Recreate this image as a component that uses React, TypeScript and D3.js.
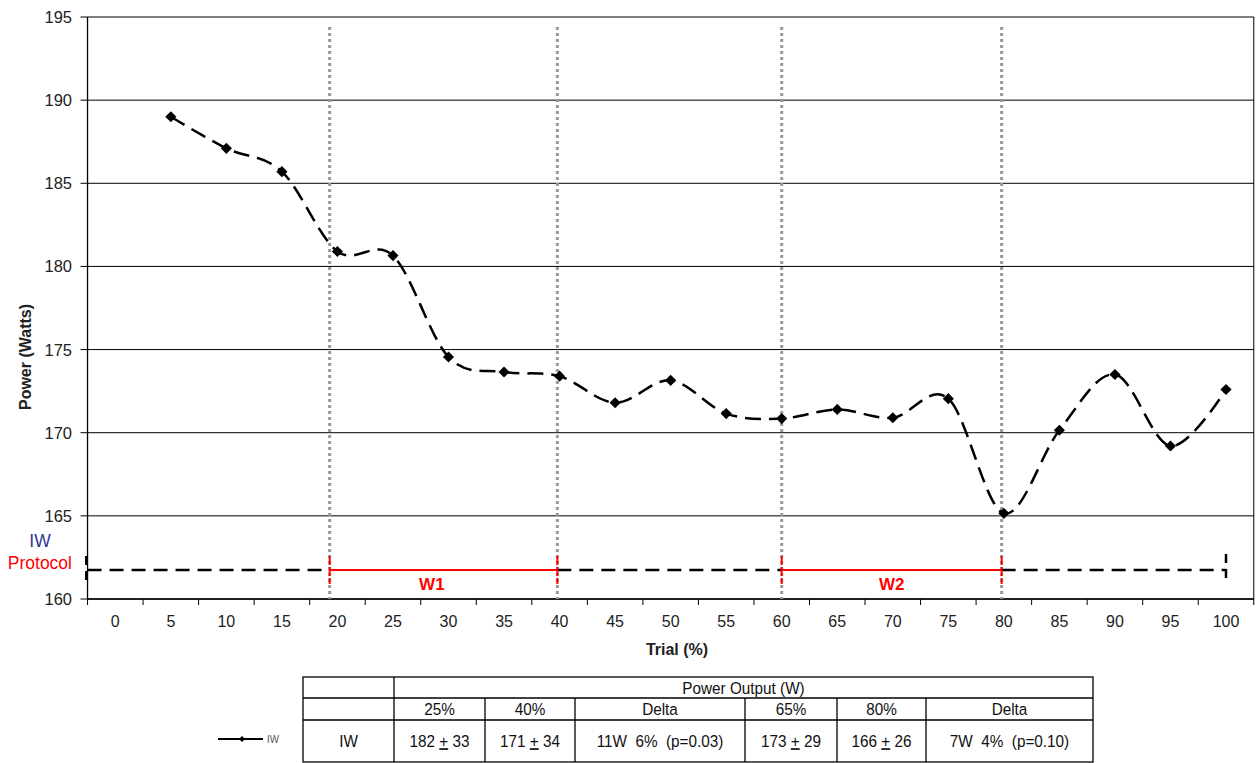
import React from "react";
import * as d3 from "d3";

const categories = [0, 5, 10, 15, 20, 25, 30, 35, 40, 45, 50, 55, 60, 65, 70, 75, 80, 85, 90, 95, 100];
const trial = [5, 10, 15, 20, 25, 30, 35, 40, 45, 50, 55, 60, 65, 70, 75, 80, 85, 90, 95, 100];
const power = [189.0, 187.1, 185.7, 180.9, 180.65, 174.55, 173.65, 173.4, 171.8, 173.15, 171.15, 170.85, 171.4, 170.9, 172.05, 165.15, 170.15, 173.5, 169.2, 172.6];
const yTicks = [160, 165, 170, 175, 180, 185, 190, 195];
const markerLines = [19.3, 39.8, 60, 79.8];
const protocolLevel = 161.75;
const windows = [
  { label: "W1", from: 19.3, to: 39.8, at: 28.5 },
  { label: "W2", from: 60, to: 79.8, at: 69.9 },
];
const headerTop = "Power Output (W)";
const headerCols = ["25%", "40%", "Delta", "65%", "80%", "Delta"];
const rowLabel = "IW";
const rowCells: [string, string, string][] = [
  ["182 ", "+", " 33"],
  ["171 ", "+", " 34"],
  ["11W  6%  (p=0.03)", "", ""],
  ["173 ", "+", " 29"],
  ["166 ", "+", " 26"],
  ["7W  4%  (p=0.10)", "", ""],
];

const FONT = "'Liberation Sans', Arial, sans-serif";

export default function App() {
  const W = 1256, H = 763;
  const x = d3.scaleLinear().domain([0, 100]).range([115.3, 1226]);
  const y = d3.scaleLinear().domain([160, 195]).range([599, 17]);
  const left = x(-2.5), right = x(102.5);
  const step = x(5) - x(0);
  const line = d3.line<number>()
    .x((_, i) => x(trial[i]))
    .y((d) => y(d))
    .curve(d3.curveCardinal.tension(0));
  const py = y(protocolLevel);
  const diamond = d3.symbol().type(d3.symbolSquare).size(62)() as string;

  const tableCols = [303, 394, 485, 575, 745, 837, 926, 1093];
  const rowY = [677, 698, 720, 762];

  const blackSegs: [number, number][] = [
    [left, x(windows[0].from)],
    [x(windows[0].to), x(windows[1].from)],
    [x(windows[1].to), x(100)],
  ];

  const cellText = (cx: number, cy: number, content: React.ReactNode, key: any) => (
    <g key={key} transform={`translate(${cx},${cy}) scale(0.9,1)`}>
      <text x={0} y={0} dy="0.36em" textAnchor="middle" style={{ whiteSpace: "pre" }}>{content}</text>
    </g>
  );

  return (
    <svg width={W} height={H} style={{ position: "absolute", left: 0, top: 0, background: "#fff" }} fontFamily={FONT}>
      {yTicks.map((t) => (
        <g key={t}>
          <line x1={left} x2={right} y1={y(t)} y2={y(t)} stroke="#000" strokeWidth={1} />
          <line x1={left - 7} x2={left} y1={y(t)} y2={y(t)} stroke="#000" strokeWidth={1} />
          <text x={72} y={y(t)} dy="0.36em" textAnchor="end" fontSize={16.5} fill="#222">{t}</text>
        </g>
      ))}
      <line x1={left} x2={left} y1={y(195)} y2={y(160)} stroke="#000" strokeWidth={1.3} />
      <line x1={right} x2={right} y1={y(195)} y2={y(160)} stroke="#000" strokeWidth={1} />
      <line x1={left} x2={right} y1={y(160)} y2={y(160)} stroke="#000" strokeWidth={1.3} />
      {categories.map((c, i) => (
        <g key={c}>
          <line x1={x(c) - step / 2} x2={x(c) - step / 2} y1={y(160)} y2={y(160) + 6} stroke="#000" />
          <text x={x(c)} y={627} textAnchor="middle" fontSize={16} fill="#222">{c}</text>
          {i === categories.length - 1 && (
            <line x1={x(c) + step / 2} x2={x(c) + step / 2} y1={y(160)} y2={y(160) + 6} stroke="#000" />
          )}
        </g>
      ))}
      <text transform={`translate(31,357) rotate(-90)`} textAnchor="middle" fontSize={16} fontWeight="bold" fill="#222">Power (Watts)</text>
      <text x={677} y={655} textAnchor="middle" fontSize={16} fontWeight="bold" fill="#222">Trial (%)</text>

      {markerLines.map((m) => (
        <line key={m} x1={x(m)} x2={x(m)} y1={27} y2={y(160)} stroke="#999" strokeWidth={3} strokeDasharray="3,3" />
      ))}

      <text x={40} y={547} textAnchor="middle" fontSize={17.5} fill="#333399">IW</text>
      <text x={72} y={569} textAnchor="end" fontSize={17.5} fill="#ff0000">Protocol</text>
      {blackSegs.map(([a, b], i) => (
        <line key={i} x1={a} x2={b} y1={py} y2={py} stroke="#000" strokeWidth={2.5} strokeDasharray="14,8" />
      ))}
      <line x1={left - 1} x2={left - 1} y1={py - 14} y2={py + 14} stroke="#000" strokeWidth={3} strokeDasharray="9,6" />
      <line x1={x(100)} x2={x(100)} y1={py - 16} y2={py + 14} stroke="#000" strokeWidth={2.5} strokeDasharray="9,6" />
      {windows.map((w) => (
        <g key={w.label}>
          <line x1={x(w.from)} x2={x(w.to)} y1={py} y2={py} stroke="#ff0000" strokeWidth={2} />
          <line x1={x(w.from)} x2={x(w.from)} y1={py - 14} y2={py + 14} stroke="#ff0000" strokeWidth={2} strokeDasharray="9,2" />
          <line x1={x(w.to)} x2={x(w.to)} y1={py - 14} y2={py + 14} stroke="#ff0000" strokeWidth={2} strokeDasharray="9,2" />
          <text x={x(w.at)} y={590} textAnchor="middle" fontSize={17} fontWeight="bold" fill="#ff0000">{w.label}</text>
        </g>
      ))}

      <path d={line(power) || ""} fill="none" stroke="#000" strokeWidth={2.5} strokeDasharray="16,8" />
      {power.map((v, i) => (
        <path key={i} d={diamond} transform={`translate(${x(trial[i])},${y(v)}) rotate(45)`} fill="#000" />
      ))}

      <g fontSize={17} fill="#111">
        <rect x={tableCols[0]} y={rowY[0]} width={tableCols[7] - tableCols[0]} height={rowY[3] - rowY[0]} fill="none" stroke="#000" strokeWidth={1.3} />
        <line x1={tableCols[0]} x2={tableCols[7]} y1={rowY[1]} y2={rowY[1]} stroke="#000" strokeWidth={1.3} />
        <line x1={tableCols[0]} x2={tableCols[7]} y1={rowY[2]} y2={rowY[2]} stroke="#000" strokeWidth={1.3} />
        <line x1={tableCols[1]} x2={tableCols[1]} y1={rowY[0]} y2={rowY[3]} stroke="#000" strokeWidth={1.3} />
        {tableCols.slice(2, 7).map((c) => (
          <line key={c} x1={c} x2={c} y1={rowY[1]} y2={rowY[3]} stroke="#000" strokeWidth={1.3} />
        ))}
        {cellText((tableCols[1] + tableCols[7]) / 2, (rowY[0] + rowY[1]) / 2, headerTop, "ht")}
        {headerCols.map((h, i) => cellText((tableCols[i + 1] + tableCols[i + 2]) / 2, (rowY[1] + rowY[2]) / 2, h, "h" + i))}
        {cellText((tableCols[0] + tableCols[1]) / 2, (rowY[2] + rowY[3]) / 2, rowLabel, "rl")}
        {rowCells.map((c, i) =>
          cellText(
            (tableCols[i + 1] + tableCols[i + 2]) / 2,
            (rowY[2] + rowY[3]) / 2,
            <>
              {c[0]}
              {c[1] && <tspan textDecoration="underline">{c[1]}</tspan>}
              {c[2]}
            </>,
            "c" + i
          )
        )}
      </g>
      <line x1={218} x2={263} y1={739} y2={739} stroke="#000" strokeWidth={2.2} />
      <path d={d3.symbol().type(d3.symbolSquare).size(18)() as string} transform="translate(242,739) rotate(45)" fill="#000" />
      <g transform="translate(267,739) scale(0.9,1)">
        <text x={0} y={0} dy="0.35em" fontSize={11} fill="#555">IW</text>
      </g>
    </svg>
  );
}
